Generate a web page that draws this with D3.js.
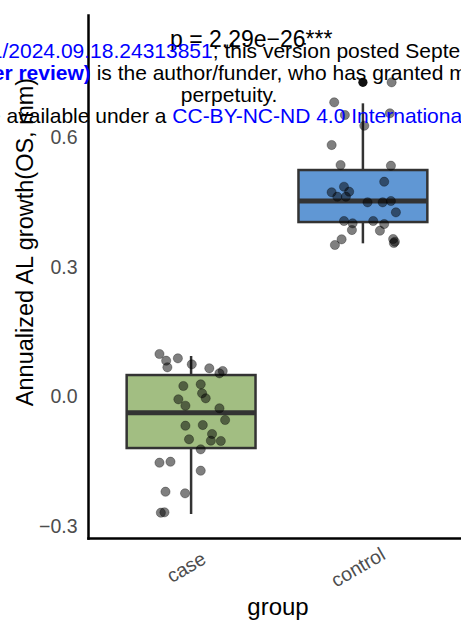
<!DOCTYPE html>
<html><head><meta charset="utf-8">
<script src="https://cdn.jsdelivr.net/npm/d3@7"></script>
<style>html,body{margin:0;padding:0;background:#fff;overflow:hidden;} svg{display:block;}</style>
</head><body>
<script>
// ---------- data ----------
const groups = ["case", "control"];
const yTicks = [-0.3, 0.0, 0.3, 0.6];
const yLimits = [-0.3289, 0.8826];
const boxQ1 = [-0.1205, 0.403];
const boxMedian = [-0.0387, 0.4517];
const boxQ3 = [0.0486, 0.5235];
const whiskerLow = [-0.2733, 0.3537];
const whiskerHigh = [0.0927, 0.678];
const controlOutliers = [0.7267];
const caseJitter = [-0.184,-0.145,-0.138,-0.077,0.004,0.106,0.165,0.184,-0.045,0.056,0.064,0.085,-0.074,-0.033,0.165,0.198,-0.033,0.068,0.122,-0.012,0.115,0.173,0.056,-0.184,-0.120,0.056,-0.149,-0.035,-0.176,-0.155];
const caseValues = [0.0973,0.0818,0.0665,0.0873,0.0734,0.0642,0.0526,0.0579,0.0232,0.0271,0.0063,-0.0053,-0.0076,-0.0225,-0.0285,-0.0556,-0.0688,-0.0672,-0.088,-0.1003,-0.1035,-0.1042,-0.1235,-0.1545,-0.1522,-0.173,-0.2217,-0.2254,-0.2703,-0.2694];
const controlJitter = [0.167,-0.167,0.157,-0.105,0.008,-0.182,-0.130,0.163,0.124,-0.110,-0.182,-0.080,-0.149,-0.099,0.027,0.115,0.163,0.192,-0.110,-0.060,0.060,0.124,-0.064,0.099,-0.124,-0.163,0.176,0.186,0.180];
const controlValues = [0.7267,0.6803,0.6549,0.6509,0.6261,0.5814,0.5351,0.5335,0.4964,0.4848,0.4719,0.4733,0.4617,0.4617,0.4487,0.4487,0.4517,0.4255,0.4054,0.4,0.4054,0.3984,0.3845,0.3829,0.363,0.3498,0.3637,0.3574,0.3544];
const pLabel = "p = 2.29e\u221226***";
const xTitle = "group";
const yTitle = "Annualized AL growth(OS, mm)";
const boxFills = ["#A2BE82", "#6097D4"];

// watermark text lines (overlay)
const wmLines = [
  {segs:[{t:"medRxiv preprint doi: ",c:"#000"},{t:"https://doi.org/10.1101",c:"#0000ff"},{t:"/2024.09.18.24313851",c:"#0000ff"},{t:"; this version posted September 20, 2024. The copyright holder for this preprint",c:"#000"}], anchorSeg:2, ax:2.5, y:58},
  {segs:[{t:"(which was not certified by peer review)",c:"#0000ff",b:true},{t:" is the author/funder, who has granted medRxiv a license to display the preprint in",c:"#000"}], anchorSeg:1, ax:90.8, y:80},
  {segs:[{t:"perpetuity.",c:"#000"}], anchorSeg:-1, ax:229, y:101.5},
  {segs:[{t:"It is made available under a ",c:"#000"},{t:"CC-BY-NC-ND 4.0 International",c:"#0000ff"},{t:" license .",c:"#000"}], anchorSeg:1, ax:172.3, y:123}
];

// ---------- layout ----------
const W = 461, H = 628;
const FONT = "'Liberation Sans', Arial, Helvetica, sans-serif";
const svg = d3.select("body").append("svg").attr("width", W).attr("height", H)
  .style("font-family", FONT);

const x = d3.scalePoint().domain(groups).range([88, 466]).padding(0.6);
const step = x.step();
const y = d3.scaleLinear().domain(yLimits).range([538, 15]);
const boxW = step * 0.75;

// boxes
const boxData = groups.map((g, i) => ({g, i, q1: boxQ1[i], med: boxMedian[i], q3: boxQ3[i], lo: whiskerLow[i], hi: whiskerHigh[i]}));
const bg = svg.append("g");
bg.selectAll("line.wh").data(boxData).join("line")
  .attr("x1", d => x(d.g)).attr("x2", d => x(d.g))
  .attr("y1", d => y(d.hi)).attr("y2", d => y(d.lo))
  .attr("stroke", "#333").attr("stroke-width", 2.5);
bg.selectAll("rect").data(boxData).join("rect")
  .attr("x", d => x(d.g) - boxW / 2).attr("width", boxW)
  .attr("y", d => y(d.q3)).attr("height", d => y(d.q1) - y(d.q3))
  .attr("fill", d => boxFills[d.i]).attr("stroke", "#333").attr("stroke-width", 2.5);
bg.selectAll("line.med").data(boxData).join("line")
  .attr("x1", d => x(d.g) - boxW / 2).attr("x2", d => x(d.g) + boxW / 2)
  .attr("y1", d => y(d.med)).attr("y2", d => y(d.med))
  .attr("stroke", "#333").attr("stroke-width", 5);

// outliers
svg.append("g").selectAll("circle").data(controlOutliers).join("circle")
  .attr("cx", x("control")).attr("cy", d => y(d)).attr("r", 4.6)
  .attr("fill", "#111");

// jitter points
const pts = [];
caseValues.forEach((v, k) => pts.push({g: "case", dx: caseJitter[k], v}));
controlValues.forEach((v, k) => pts.push({g: "control", dx: controlJitter[k], v}));
svg.append("g").selectAll("circle").data(pts).join("circle")
  .attr("cx", d => x(d.g) + d.dx * step).attr("cy", d => y(d.v)).attr("r", 4.6)
  .attr("fill", "#000").attr("fill-opacity", 0.5)
  .attr("stroke", "#000").attr("stroke-opacity", 0.3).attr("stroke-width", 1);

// axes
const yAxis = svg.append("g").attr("transform", "translate(88,0)")
  .call(d3.axisLeft(y).tickValues(yTicks).tickFormat(d3.format(".1f")).tickSize(0).tickSizeOuter(0).tickPadding(10.5));
yAxis.select(".domain").attr("stroke", "#000").attr("stroke-width", 2.5);
yAxis.selectAll("text").attr("fill", "#4d4d4d").style("font-size", "19.5px").attr("dy", "0.35em");

const xAxis = svg.append("g").attr("transform", "translate(0,538)")
  .call(d3.axisBottom(x).tickSize(0).tickSizeOuter(0));
xAxis.select(".domain").attr("stroke", "#000").attr("stroke-width", 2.5);
xAxis.selectAll("text").attr("fill", "#4d4d4d").style("font-size", "19.5px")
  .attr("x", 0).attr("y", 0).attr("dy", 0)
  .attr("text-anchor", "middle").attr("transform", "translate(-2,35) rotate(-30)");
svg.selectAll(".domain").attr("stroke-linecap", "square");

// axis titles
svg.append("text").attr("x", 278).attr("y", 615).attr("text-anchor", "middle")
  .style("font-size", "24px").attr("fill", "#000").text(xTitle);
svg.append("text").attr("transform", "translate(33,242) rotate(-90)").attr("text-anchor", "middle")
  .style("font-size", "23.5px").attr("fill", "#000").text(yTitle);

// p-value label
svg.append("text").attr("x", 170).attr("y", 46.5).style("font-size", "23px")
  .attr("fill", "#000").text(pLabel);

// watermark overlay
wmLines.forEach(line => {
  const t = svg.append("text").attr("y", line.y).style("font-size", "21px").style("white-space", "pre")
    .attr("xml:space", "preserve");
  const spans = line.segs.map(s => t.append("tspan").attr("fill", s.c)
    .style("font-weight", s.b ? "bold" : "normal").text(s.t));
  if (line.anchorSeg < 0) {
    t.attr("x", line.ax).attr("text-anchor", "middle");
  } else {
    let off = 0;
    for (let k = 0; k < line.anchorSeg; k++) off += spans[k].node().getComputedTextLength();
    t.attr("x", line.ax - off);
  }
});
</script>
</body></html>
